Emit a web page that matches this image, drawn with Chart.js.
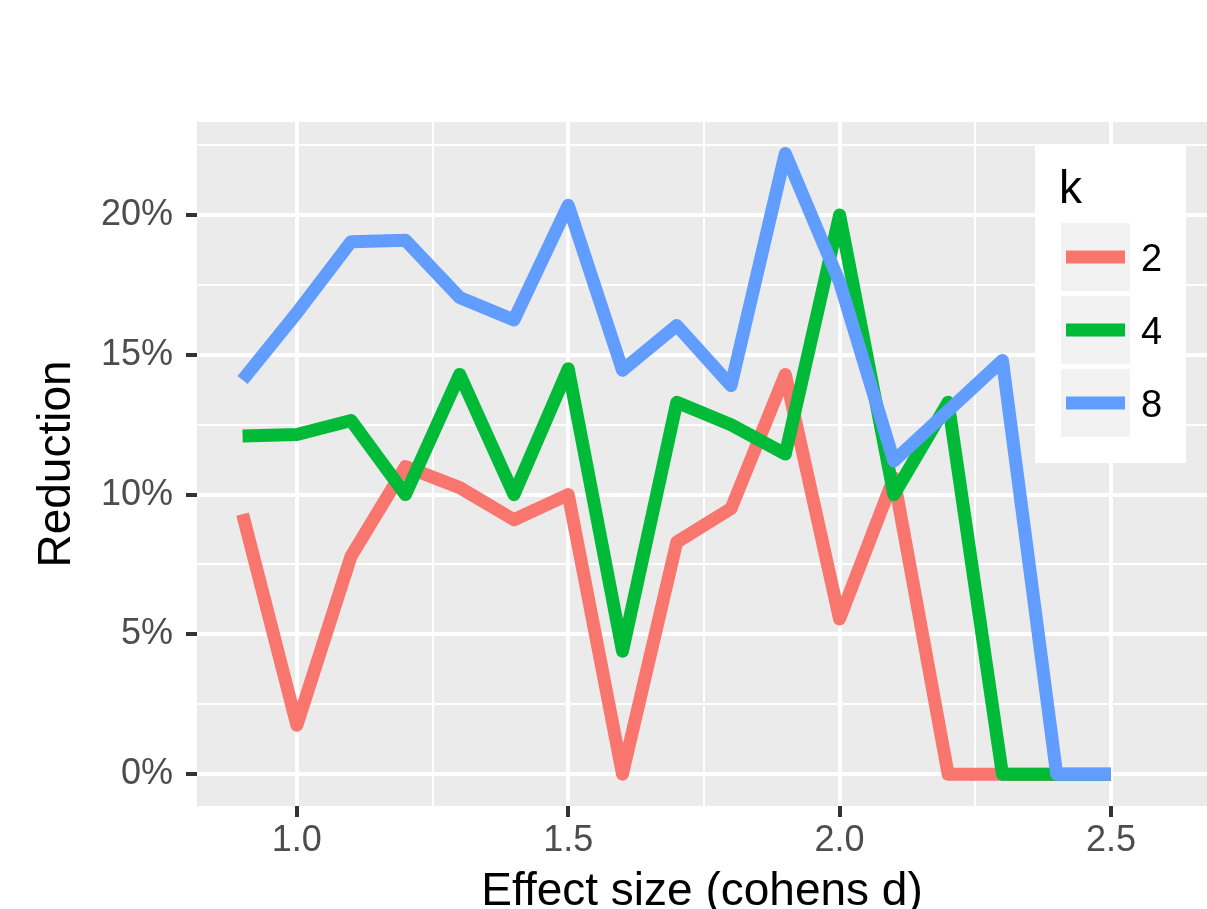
<!DOCTYPE html>
<html>
<head>
<meta charset="utf-8">
<script src="https://cdn.jsdelivr.net/npm/chart.js@4.4.1/dist/chart.umd.min.js"></script>
<style>
  html, body { margin: 0; padding: 0; background: #ffffff; }
  #wrap { width: 1207px; height: 909px; }
</style>
</head>
<body>
<div id="wrap"><canvas id="c" width="1207" height="909"></canvas></div>
<script>
// ---- data ----
const effectSizes = [0.9, 1.0, 1.1, 1.2, 1.3, 1.4, 1.5, 1.6, 1.7, 1.8, 1.9, 2.0, 2.1, 2.2, 2.3, 2.4, 2.5];
const seriesLabels = ['2', '4', '8'];
const reductionK2 = [9.3, 1.75, 7.8, 11.0, 10.25, 9.1, 10.0, 0.0, 8.3, 9.5, 14.3, 5.55, 10.6, 0.0, 0.0, 0.0, 0.0];
const reductionK4 = [12.1, 12.15, 12.65, 10.0, 14.3, 10.0, 14.5, 4.4, 13.3, 12.5, 11.45, 20.0, 10.0, 13.3, 0.0, 0.0, 0.0];
const reductionK8 = [14.1, 16.5, 19.05, 19.1, 17.05, 16.25, 20.35, 14.45, 16.05, 13.9, 22.2, 17.6, 11.2, 13.0, 14.8, 0.0, 0.0];
const seriesColors = ['#F8766D', '#00BA38', '#619CFF'];

const xMajorTicks = [1.0, 1.5, 2.0, 2.5];
const xMinorTicks = [1.25, 1.75, 2.25];
const yMajorTicks = [0, 5, 10, 15, 20];
const yMinorTicks = [2.5, 7.5, 12.5, 17.5, 22.5];
const xTickLabels = ['1.0', '1.5', '2.0', '2.5'];
const yTickLabels = ['0%', '5%', '10%', '15%', '20%'];

// ---- build ----
const FONT = '"Liberation Sans", Arial, Helvetica, sans-serif';
const seriesValues = [reductionK2, reductionK4, reductionK8];
const datasets = seriesValues.map((vals, i) => ({
  label: seriesLabels[i],
  data: effectSizes.map((x, j) => ({ x: x, y: vals[j] })),
  borderColor: seriesColors[i],
  backgroundColor: seriesColors[i],
  borderWidth: 13,
  borderJoinStyle: 'round',
  borderCapStyle: 'butt',
  pointRadius: 0,
  pointHoverRadius: 0,
  tension: 0,
  fill: false,
  order: 3 - i
}));

function isMajor(list, v) { return list.some(m => Math.abs(m - v) < 1e-9); }
function tickSetter(major, minor) {
  return function (scale) {
    scale.ticks = major.concat(minor).sort((a, b) => a - b).map(v => ({ value: v }));
  };
}

const panelBg = {
  id: 'panelBg',
  beforeDraw(chart) {
    const { ctx, chartArea: a } = chart;
    ctx.save();
    ctx.fillStyle = '#EBEBEB';
    ctx.fillRect(a.left, a.top, a.right - a.left, a.bottom - a.top);
    ctx.restore();
  }
};

const ggLegend = {
  id: 'ggLegend',
  afterDraw(chart) {
    const ctx = chart.ctx;
    ctx.save();
    ctx.fillStyle = '#FFFFFF';
    ctx.fillRect(1035, 145, 151, 318);
    ctx.fillStyle = '#000000';
    ctx.textAlign = 'left';
    ctx.textBaseline = 'alphabetic';
    ctx.font = '46px ' + FONT;
    ctx.fillText('k', 1059, 203);
    chart.data.datasets.forEach((ds, i) => {
      const top = 223 + i * 73;
      const cy = top + 34;
      ctx.fillStyle = '#F2F2F2';
      ctx.fillRect(1061, top, 69, 68);
      ctx.strokeStyle = ds.borderColor;
      ctx.lineWidth = 13;
      ctx.lineCap = 'butt';
      ctx.beginPath();
      ctx.moveTo(1066, cy);
      ctx.lineTo(1125, cy);
      ctx.stroke();
      ctx.fillStyle = '#000000';
      ctx.font = '38px ' + FONT;
      ctx.fillText(ds.label, 1141, cy + 14);
    });
    ctx.restore();
  }
};

Chart.defaults.font.family = FONT;

new Chart(document.getElementById('c'), {
  type: 'line',
  data: { datasets: datasets },
  plugins: [panelBg, ggLegend],
  options: {
    responsive: false,
    animation: false,
    devicePixelRatio: 1,
    layout: { padding: { top: 122, right: 0, bottom: 0, left: 0 } },
    plugins: { legend: { display: false }, tooltip: { enabled: false } },
    events: [],
    scales: {
      x: {
        type: 'linear',
        min: 0.816,
        max: 2.677,
        afterBuildTicks: tickSetter(xMajorTicks, xMinorTicks),
        afterFit(scale) { scale.height = 103; },
        border: { display: false },
        grid: {
          color: '#FFFFFF',
          lineWidth: c => (c.tick && isMajor(xMajorTicks, c.tick.value)) ? 4 : 2,
          drawTicks: true,
          tickLength: 11,
          tickWidth: 4,
          tickColor: c => (c.tick && isMajor(xMajorTicks, c.tick.value)) ? '#333333' : 'rgba(0,0,0,0)'
        },
        ticks: {
          autoSkip: false,
          maxRotation: 0,
          minRotation: 0,
          padding: 2,
          color: '#4D4D4D',
          font: { size: 36, family: FONT },
          callback: v => {
            const k = xMajorTicks.findIndex(m => Math.abs(m - v) < 1e-9);
            return k >= 0 ? xTickLabels[k] : '';
          }
        },
        title: {
          display: true,
          text: 'Effect size (cohens d)',
          color: '#000000',
          font: { size: 46, family: FONT, lineHeight: 0.8 },
          padding: { top: 0, bottom: -2 }
        }
      },
      y: {
        type: 'linear',
        min: -1.14,
        max: 23.33,
        afterBuildTicks: tickSetter(yMajorTicks, yMinorTicks),
        afterFit(scale) { scale.width = 197; },
        border: { display: false },
        grid: {
          color: '#FFFFFF',
          lineWidth: c => (c.tick && isMajor(yMajorTicks, c.tick.value)) ? 4 : 2,
          drawTicks: true,
          tickLength: 11,
          tickWidth: 4,
          tickColor: c => (c.tick && isMajor(yMajorTicks, c.tick.value)) ? '#333333' : 'rgba(0,0,0,0)'
        },
        ticks: {
          autoSkip: false,
          padding: 13,
          color: '#4D4D4D',
          font: { size: 36, family: FONT },
          callback: v => {
            const k = yMajorTicks.findIndex(m => Math.abs(m - v) < 1e-9);
            return k >= 0 ? yTickLabels[k] : '';
          }
        },
        title: {
          display: true,
          text: 'Reduction',
          color: '#000000',
          font: { size: 46, family: FONT, lineHeight: 0.8 },
          padding: { top: 39, bottom: 0 }
        }
      }
    }
  }
});
</script>
</body>
</html>
